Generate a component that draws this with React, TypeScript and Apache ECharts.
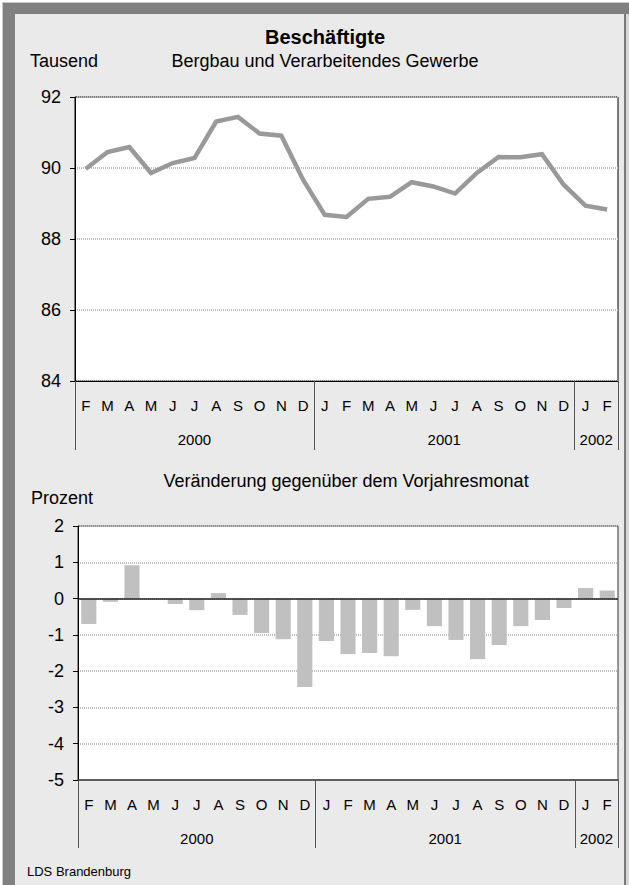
import React, { useEffect, useRef } from 'react';
import * as echarts from 'echarts';

const months = ['F', 'M', 'A', 'M', 'J', 'J', 'A', 'S', 'O', 'N', 'D', 'J', 'F', 'M', 'A', 'M', 'J', 'J', 'A', 'S', 'O', 'N', 'D', 'J', 'F'];
const years = ['2000', '2001', '2002'];
const monthsPerYear = [11, 12, 2];
const employed = [89.98, 90.45, 90.59, 89.86, 90.14, 90.28, 91.31, 91.44, 90.97, 90.91, 89.67, 88.68, 88.62, 89.13, 89.19, 89.6, 89.48, 89.28, 89.86, 90.31, 90.3, 90.39, 89.53, 88.94, 88.83];
const changePct = [-0.7, -0.09, 0.92, 0, -0.15, -0.32, 0.15, -0.45, -0.95, -1.12, -2.44, -1.17, -1.53, -1.5, -1.59, -0.31, -0.76, -1.14, -1.67, -1.28, -0.76, -0.59, -0.26, 0.29, 0.22];
const topYTicks = [84, 86, 88, 90, 92];
const bottomYTicks = [-5, -4, -3, -2, -1, 0, 1, 2];

const FONT = '"Liberation Sans", Arial, Helvetica, sans-serif';

function txt(text: string, x: number, y: number, size: number, align: string, bold = false) {
  return {
    type: 'text',
    x,
    y,
    z: 10,
    style: {
      text,
      fill: '#000',
      fontSize: size,
      fontFamily: FONT,
      fontWeight: bold ? 'bold' : 'normal',
      align,
      verticalAlign: 'middle',
      textAlign: align,
      textVerticalAlign: 'middle',
    },
  };
}

export default function App() {
  const ref = useRef<HTMLDivElement>(null);
  useEffect(() => {
    const chart = echarts.init(ref.current!, null, { renderer: 'svg' });
    const starts: number[] = [];
    let acc = 0;
    monthsPerYear.forEach((c) => {
      starts.push(acc);
      acc += c;
    });
    const centers = monthsPerYear.map((c, i) => starts[i] + c / 2);
    const yearFormatter = (v: number) => {
      const i = centers.findIndex((c) => Math.abs(c - v) < 1e-6);
      return i >= 0 ? years[i] : '';
    };
    const tickInterval = (index: number) => starts.includes(index);

    const monthAxis = (gridIndex: number, lineColor: string, lineWidth: number, tickLen: number) => ({
      type: 'category',
      gridIndex,
      data: months,
      position: 'bottom',
      boundaryGap: true,
      axisLine: { show: true, onZero: false, lineStyle: { color: lineColor, width: lineWidth } },
      axisTick: { show: true, interval: tickInterval, length: tickLen, lineStyle: { color: '#555', width: 1 } },
      axisLabel: { interval: 0, margin: 17, fontSize: 15, color: '#000', fontFamily: FONT },
      splitLine: { show: false },
    });
    const yearAxis = (gridIndex: number, margin: number) => ({
      type: 'value',
      gridIndex,
      min: 0,
      max: months.length,
      interval: 0.5,
      position: 'bottom',
      axisLine: { show: false },
      axisTick: { show: false },
      splitLine: { show: false },
      axisLabel: {
        margin,
        fontSize: 15,
        color: '#000',
        fontFamily: FONT,
        formatter: yearFormatter,
        showMinLabel: true,
        showMaxLabel: true,
      },
    });
    const gridLine = { show: true, lineStyle: { color: '#bdbdbd', width: 2, type: [1, 1] } };

    chart.setOption({
      animation: false,
      textStyle: { fontFamily: FONT },
      grid: [
        { left: 75, right: 11, top: 97, height: 284, show: true, backgroundColor: '#fff', borderColor: '#000', borderWidth: 1, outerBoundsMode: 'none' },
        { left: 78, right: 11, top: 526, height: 254, show: true, backgroundColor: '#fff', borderColor: '#333', borderWidth: 1, outerBoundsMode: 'none' },
      ],
      xAxis: [monthAxis(0, '#000', 1, 69), yearAxis(0, 51), monthAxis(1, '#444', 1.5, 68), yearAxis(1, 51)],
      yAxis: [
        {
          type: 'value',
          gridIndex: 0,
          min: topYTicks[0],
          max: topYTicks[topYTicks.length - 1],
          interval: topYTicks[1] - topYTicks[0],
          axisLine: { show: true, lineStyle: { color: '#000', width: 1 } },
          axisTick: { show: true, length: 5, lineStyle: { color: '#000' } },
          axisLabel: { margin: 14, fontSize: 18, color: '#000', fontFamily: FONT },
          splitLine: gridLine,
        },
        {
          type: 'value',
          gridIndex: 1,
          min: bottomYTicks[0],
          max: bottomYTicks[bottomYTicks.length - 1],
          interval: bottomYTicks[1] - bottomYTicks[0],
          axisLine: { show: true, onZero: false, lineStyle: { color: '#000', width: 1 } },
          axisTick: { show: true, length: 5, lineStyle: { color: '#000' } },
          axisLabel: { margin: 14, fontSize: 18, color: '#000', fontFamily: FONT },
          splitLine: gridLine,
        },
      ],
      series: [
        {
          type: 'line',
          xAxisIndex: 0,
          yAxisIndex: 0,
          data: employed,
          symbol: 'none',
          lineStyle: { color: '#999999', width: 4.5, join: 'miter' },
          z: 5,
        },
        {
          type: 'bar',
          xAxisIndex: 2,
          yAxisIndex: 1,
          data: changePct,
          barCategoryGap: '30%',
          itemStyle: { color: '#c0c0c0' },
          markLine: {
            silent: true,
            symbol: ['none', 'none'],
            label: { show: false },
            lineStyle: { color: '#222', width: 1.5, type: 'solid' },
            data: [{ yAxis: 0 }],
          },
        },
      ],
      graphic: [
        txt('Beschäftigte', 325, 37, 20, 'center', true),
        txt('Bergbau und Verarbeitendes Gewerbe', 325, 61, 18, 'center'),
        txt('Tausend', 30, 61, 18, 'left'),
        txt('Veränderung gegenüber dem Vorjahresmonat', 346, 481, 18, 'center'),
        txt('Prozent', 31, 498, 18, 'left'),
        txt('LDS Brandenburg', 27, 871, 13, 'left'),
      ],
    });
    return () => chart.dispose();
  }, []);

  const band = (s: React.CSSProperties): React.CSSProperties => ({ position: 'absolute', ...s });
  return (
    <div style={{ position: 'fixed', left: 0, top: 0, width: 629, height: 885, background: '#fff', overflow: 'hidden' }}>
      <div style={band({ left: 2, top: 2, width: 627, height: 883, background: '#c8c8c8' })} />
      <div style={band({ left: 3, top: 3, width: 626, height: 882, background: '#eaeaea' })} />
      <div style={band({ left: 3, top: 3, width: 626, height: 11, background: '#808080' })} />
      <div style={band({ left: 3, top: 3, width: 12, height: 882, background: '#808080' })} />
      <div style={band({ left: 624, top: 14, width: 2, height: 871, background: '#7a7a7a' })} />
      <div style={band({ left: 626, top: 14, width: 3, height: 871, background: '#d6d6d6' })} />
      <div ref={ref} style={{ position: 'absolute', left: 0, top: 0, width: 629, height: 885 }} />
    </div>
  );
}
